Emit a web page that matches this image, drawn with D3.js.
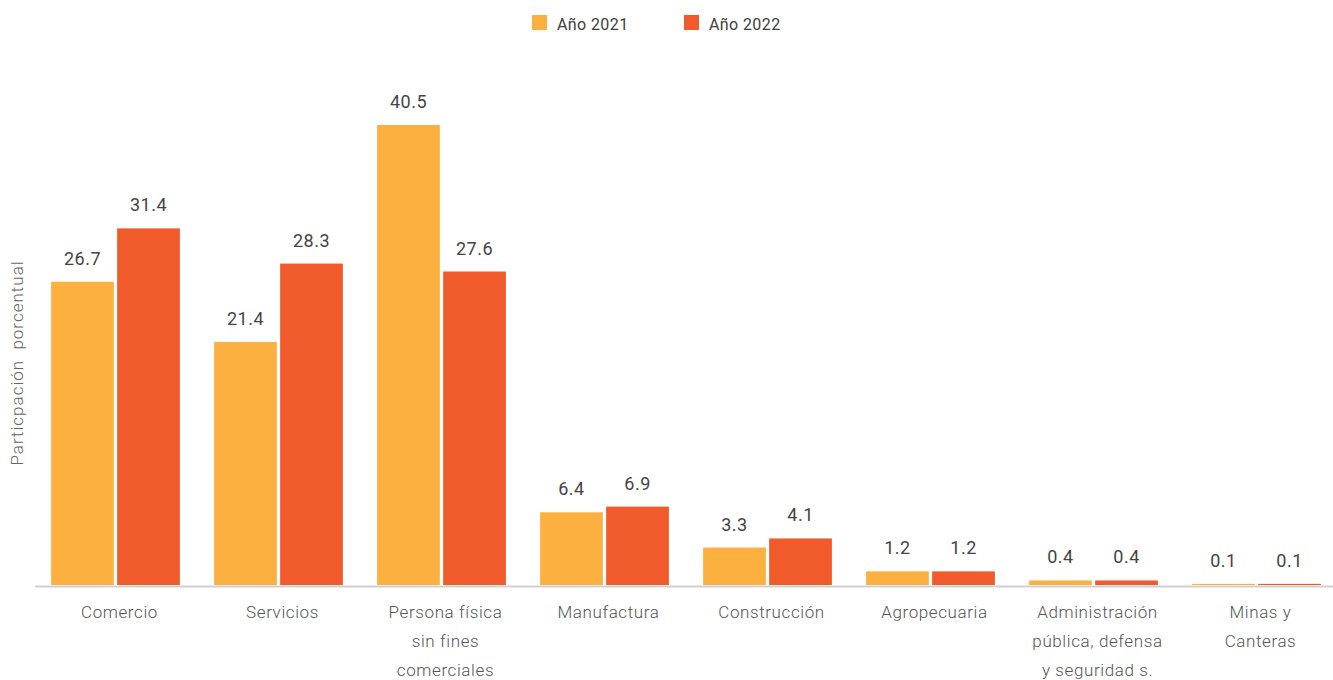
<!DOCTYPE html>
<html><head><meta charset="utf-8">
<script src="https://cdn.jsdelivr.net/npm/d3@7"></script>
<style>body{margin:0;background:#fff}svg{display:block}</style>
</head><body>
<svg id="c" width="1333" height="680"></svg>
<script>
const categories = [
  ["Comercio"],
  ["Servicios"],
  ["Persona física", "sin fines", "comerciales"],
  ["Manufactura"],
  ["Construcción"],
  ["Agropecuaria"],
  ["Administración", "pública, defensa", "y seguridad s."],
  ["Minas y", "Canteras"]
];
const seriesNames = ["Año 2021", "Año 2022"];
const values2021 = [26.7, 21.4, 40.5, 6.4, 3.3, 1.2, 0.4, 0.1];
const values2022 = [31.4, 28.3, 27.6, 6.9, 4.1, 1.2, 0.4, 0.1];
const colors = ["#FCB040", "#F15A2B"];
const yLabel = "Particpación  porcentual";

const svg = d3.select("#c");
const baseY = 585;
const x0 = d3.scaleBand().domain(d3.range(categories.length)).range([34, 1338]).paddingInner(0.21).paddingOuter(0.105);
const x1 = d3.scaleBand().domain([0, 1]).range([0, x0.bandwidth()]).paddingInner(0.05);
const y = d3.scaleLinear().domain([0, 40.5]).range([baseY, 125]);

const series = [values2021, values2022];
const g = svg.append("g");
series.forEach((vals, si) => {
  g.selectAll(null).data(vals).enter().append("rect")
    .attr("x", (d, i) => x0(i) + x1(si))
    .attr("y", d => y(d))
    .attr("width", x1.bandwidth())
    .attr("height", d => baseY - y(d))
    .attr("fill", colors[si]);
  g.selectAll(null).data(vals).enter().append("text")
    .attr("x", (d, i) => x0(i) + x1(si) + x1.bandwidth() / 2)
    .attr("y", d => y(d) - 17)
    .attr("text-anchor", "middle")
    .attr("font-family", "Roboto")
    .attr("font-size", 18)
    .attr("letter-spacing", 0.5)
    .attr("fill", "#444")
    .text(d => d.toFixed(1));
});

// axis baseline
svg.append("line").attr("x1", 35).attr("x2", 1333).attr("y1", baseY + 1.5).attr("y2", baseY + 1.5)
  .attr("stroke", "#d0d0d0").attr("stroke-width", 2);

// category labels
categories.forEach((lines, i) => {
  const cx = x0(i) + x0.bandwidth() / 2 + 4;
  const t = svg.append("text")
    .attr("x", cx)
    .attr("y", 618)
    .attr("text-anchor", "middle")
    .attr("font-family", "Roboto")
    .attr("font-weight", 300)
    .attr("font-size", 17)
    .attr("letter-spacing", 0.6)
    .attr("fill", "#555");
  lines.forEach((l, k) => t.append("tspan").attr("x", cx).attr("dy", k ? 29 : 0).text(l));
});

// y label
svg.append("text")
  .attr("transform", "translate(23,363) rotate(-90)")
  .attr("text-anchor", "middle")
  .attr("font-family", "Roboto")
  .attr("font-weight", 300)
  .attr("font-size", 17)
  .attr("letter-spacing", 1)
  .attr("fill", "#666")
  .attr("xml:space", "preserve")
  .style("white-space", "pre")
  .text(yLabel);

// legend
const legX = [532, 684];
seriesNames.forEach((n, i) => {
  svg.append("rect").attr("x", legX[i]).attr("y", 15).attr("width", 15).attr("height", 15).attr("fill", colors[i]);
  svg.append("text").attr("x", legX[i] + 25).attr("y", 30)
    .attr("font-family", "Roboto").attr("font-size", 16).attr("letter-spacing", 0.4)
    .attr("fill", "#404040").text(n);
});
</script>
</body></html>
